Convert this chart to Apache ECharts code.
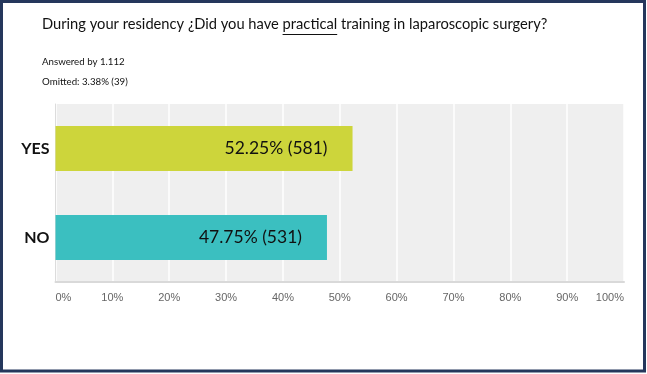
<!DOCTYPE html>
<html>
<head>
<meta charset="utf-8">
<script src="https://cdn.jsdelivr.net/npm/echarts@6/dist/echarts.min.js"></script>
<style>
html,body{margin:0;padding:0;background:#fff;}
#c{width:647px;height:374px;}
</style>
</head>
<body>
<div id="c"></div>
<script>
const categories = ['YES', 'NO'];
const percents = [52.25, 47.75];
const counts = [581, 531];
const titleBefore = 'During your residency ¿Did you have ';
const titleUnderlined = 'practical';
const titleAfter = ' training in laparoscopic surgery?';
const answeredText = 'Answered by 1.112';
const omittedText = 'Omitted: 3.38% (39)';

const barColors = ['#cdd53b', '#3bbfc0'];
const titleFont = 'Lato';
const titleSize = 14.7;
const titleLeft = 42;
const titleTop = 17;

function textWidth(t, font) {
  const cv = document.createElement('canvas').getContext('2d');
  cv.font = font;
  return cv.measureText(t).width;
}
const fontStr = titleSize + 'px ' + titleFont;
const ulStart = titleLeft + textWidth(titleBefore, fontStr);
const ulEnd = ulStart + textWidth(titleUnderlined, fontStr);

const chart = echarts.init(document.getElementById('c'));
chart.setOption({
  animation: false,
  backgroundColor: '#fff',
  title: [
    { text: titleBefore + titleUnderlined + titleAfter, left: titleLeft, top: titleTop, padding: 0,
      textStyle: { fontFamily: titleFont, fontSize: titleSize, fontWeight: 'normal', color: '#111' } },
    { text: answeredText, left: 42, top: 57, padding: 0,
      textStyle: { fontFamily: titleFont, fontSize: 9.7, fontWeight: 'normal', color: '#111' } },
    { text: omittedText, left: 42, top: 77, padding: 0,
      textStyle: { fontFamily: titleFont, fontSize: 9.7, fontWeight: 'normal', color: '#111' } }
  ],
  graphic: [
    { type: 'rect', shape: { x: 1.5, y: 1.5, width: 643, height: 369.5 },
      style: { fill: null, stroke: '#25375c', lineWidth: 3 }, z: 100 },
    { type: 'line', shape: { x1: ulStart, y1: titleTop + 17.5, x2: ulEnd, y2: titleTop + 17.5 },
      style: { stroke: '#111', lineWidth: 1 } }
  ],
  grid: { left: 55.5, right: 23, top: 104, bottom: 92, show: true, backgroundColor: '#efefef', borderWidth: 0 },
  xAxis: {
    type: 'value', min: 0, max: 100, interval: 10,
    axisLine: { show: true, lineStyle: { color: '#d9d9d9', width: 2 } },
    axisTick: { show: false },
    splitLine: { show: true, lineStyle: { color: '#ffffff', width: 1.5 } },
    axisLabel: { formatter: '{value}%', color: '#666', fontFamily: 'Liberation Sans', fontSize: 11, margin: 10,
      alignMinLabel: 'left', alignMaxLabel: 'right' }
  },
  yAxis: {
    type: 'category', data: categories, inverse: true,
    axisLine: { show: true, lineStyle: { color: '#dcdcdc', width: 1 } },
    axisTick: { show: false },
    axisLabel: { color: '#111', fontFamily: 'Lato', fontWeight: 'bold', fontSize: 16, margin: 6 }
  },
  series: [{
    type: 'bar',
    barWidth: 45,
    data: percents.map((v, i) => ({ value: v, itemStyle: { color: barColors[i] } })),
    label: {
      show: true, position: 'insideRight', distance: 25,
      formatter: p => p.value.toFixed(2) + '% (' + counts[p.dataIndex] + ')',
      color: '#111', fontFamily: 'Lato', fontSize: 17.5
    }
  }]
});
</script>
</body>
</html>
